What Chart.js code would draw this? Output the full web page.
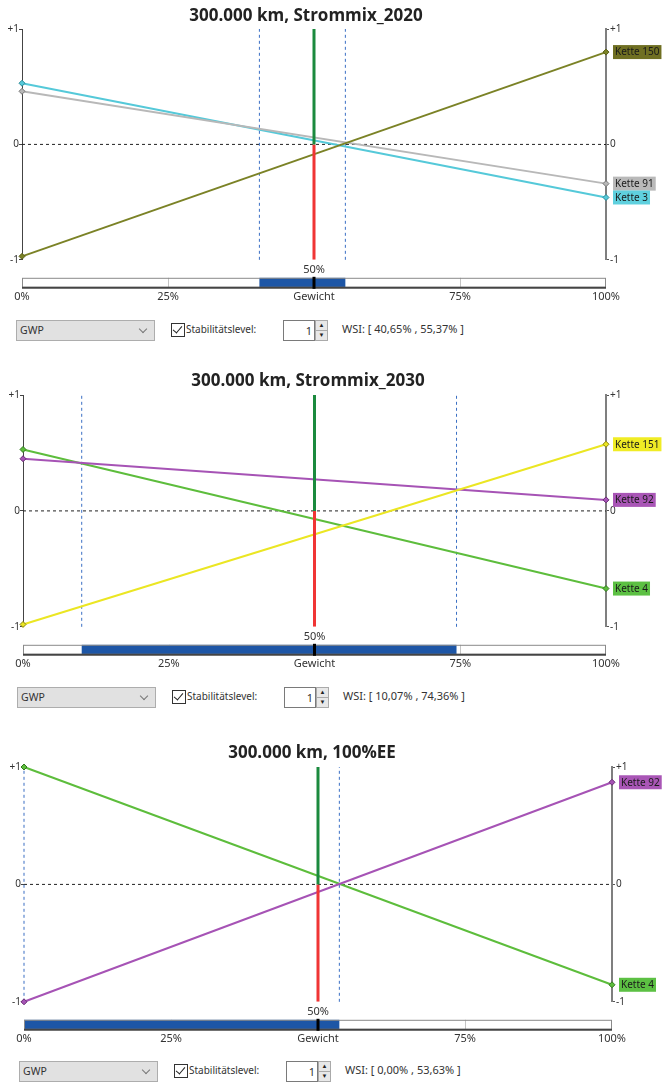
<!DOCTYPE html>
<html>
<head>
<meta charset="utf-8">
<script src="https://cdn.jsdelivr.net/npm/chart.js@4.4.1/dist/chart.umd.min.js"></script>
<style>
  body { margin: 0; background: #fff; font-family: "Noto Sans", sans-serif; }
  .wrap { position: relative; width: 664px; height: 1082px; overflow: hidden; }
  canvas { position: absolute; left: 0; }
  .title { position: absolute; width: 400px; text-align: center; font: bold 17px "Open Sans", sans-serif; color: #222; line-height: 20px; white-space: nowrap; }
  .ctrl { position: absolute; left: 0; width: 664px; height: 22px; font-size: 11px; color: #333; }
  .combo { position: absolute; top: 0; width: 134px; height: 19px; background: #e1e1e1; border: 1px solid #adadad; line-height: 19px; padding-left: 3px; box-sizing: content-box; font-size: 10.5px; }
  .chev { position: absolute; right: 8px; top: 5px; width: 5px; height: 5px; border-right: 1px solid #777; border-bottom: 1px solid #777; transform: rotate(45deg); }
  .chk { position: absolute; top: 3px; width: 12px; height: 12px; border: 1px solid #333; background: #fff; }
  .chk::after { content: ""; position: absolute; left: 3px; top: 0px; width: 4px; height: 8px; border-right: 1.5px solid #222; border-bottom: 1.5px solid #222; transform: rotate(40deg); }
  .lbl { position: absolute; top: 2px; font-size: 10px; }
  .spin { position: absolute; top: 0; width: 28px; height: 19px; border: 1px solid #7a7a7a; background: #fff; text-align: right; line-height: 19px; padding-right: 2px; box-sizing: content-box; }
  .arr { position: absolute; width: 11px; height: 9px; background: #e8e8e8; border: 1px solid #aaa; font-size: 6px; line-height: 9px; text-align: center; color: #222; }
  .wsi { position: absolute; top: 1px; }
</style>
</head>
<body>
<div class="wrap" id="wrap">
  <canvas id="c1" width="664" height="305" style="top:0px"></canvas>
  <canvas id="c2" width="664" height="306" style="top:366px"></canvas>
  <canvas id="c3" width="664" height="309" style="top:738px"></canvas>
</div>
<script>
// weights on the x axis (0% .. 100%)
const xWeight = [0, 100];
const xTickValues = [0, 25, 50, 75, 100];
const xTickLabels = ['0%', '25%', 'Gewicht', '75%', '100%'];
const currentWeight = 50;

const titles = ['300.000 km, Strommix_2020', '300.000 km, Strommix_2030', '300.000 km, 100%EE'];

// Strommix 2020
const names2020 = ['Kette 150', 'Kette 91', 'Kette 3'];
const start2020 = [-0.97, 0.46, 0.53];
const end2020 = [0.80, -0.34, -0.46];
const wsi2020 = [40.65, 55.37];

// Strommix 2030
const names2030 = ['Kette 151', 'Kette 92', 'Kette 4'];
const start2030 = [-0.98, 0.45, 0.53];
const end2030 = [0.575, 0.095, -0.67];
const wsi2030 = [10.07, 74.36];

// 100% EE
const namesEE = ['Kette 92', 'Kette 4'];
const startEE = [-1.0, 1.0];
const endEE = [0.87, -0.855];
const wsiEE = [0.0, 53.63];

const ketteColors = {
  'Kette 150': { line: '#7b8226', point: '#5a5e1a', tag: '#6f6f22' },
  'Kette 91': { line: '#b8b8b8', point: '#777', tag: '#b9b9b9' },
  'Kette 3': { line: '#55c9d9', point: '#2e8c99', tag: '#5fd0de' },
  'Kette 151': { line: '#ebe623', point: '#8a8410', tag: '#f0ec25' },
  'Kette 92': { line: '#a653b5', point: '#6a2d76', tag: '#a956b6' },
  'Kette 4': { line: '#5dbd3c', point: '#327a1e', tag: '#5cc043' }
};

const FONT = '"Noto Sans", sans-serif';

// the weight slider under the plot
const wsiBar = {
  id: 'wsiBar',
  afterDraw(chart, args, opts) {
    const { ctx, chartArea, scales: { x } } = chart;
    const top = chartArea.bottom + 18, h = 10;
    const l = x.getPixelForValue(0), r = x.getPixelForValue(100);
    ctx.save();
    ctx.fillStyle = '#fff';
    ctx.fillRect(l, top, r - l, h);
    ctx.strokeStyle = '#c4c4c4';
    ctx.lineWidth = 1;
    [25, 75].forEach(v => {
      const p = Math.round(x.getPixelForValue(v)) + 0.5;
      ctx.beginPath(); ctx.moveTo(p, top); ctx.lineTo(p, top + h); ctx.stroke();
    });
    const a = x.getPixelForValue(opts.range[0]), b = x.getPixelForValue(opts.range[1]);
    ctx.fillStyle = '#1d56a6';
    ctx.fillRect(a, top, b - a, h);
    ctx.strokeStyle = '#8a8a8a';
    ctx.strokeRect(l + 0.5, top + 0.5, r - l - 1, h - 1);
    ctx.strokeStyle = '#444';
    ctx.lineWidth = 2;
    ctx.beginPath(); ctx.moveTo(l, top + h); ctx.lineTo(r, top + h); ctx.stroke();
    const m = x.getPixelForValue(opts.marker);
    ctx.fillStyle = '#000';
    ctx.fillRect(m - 1.5, top - 1, 3, h + 2);
    ctx.fillStyle = '#333';
    ctx.font = '11px ' + FONT;
    ctx.textAlign = 'center';
    ctx.textBaseline = 'bottom';
    ctx.fillText(opts.marker + '%', m, top - 2);
    ctx.restore();
  }
};

// coloured name tags to the right of the right axis
const ketteTags = {
  id: 'ketteTags',
  afterDraw(chart) {
    const { ctx, scales: { x, y } } = chart;
    ctx.save();
    ctx.font = '10px ' + FONT;
    ctx.textBaseline = 'middle';
    chart.data.datasets.forEach(ds => {
      if (!ds.tagColor) return;
      const last = ds.data[ds.data.length - 1];
      const px = x.getPixelForValue(last.x) + 7;
      const py = y.getPixelForValue(last.y);
      const w = ctx.measureText(ds.label).width + 4;
      ctx.fillStyle = ds.tagColor;
      ctx.fillRect(px, py - 7, w, 14);
      ctx.fillStyle = '#1a1a1a';
      ctx.fillText(ds.label, px + 2, py + 0.5);
    });
    ctx.restore();
  }
};

function buildDatasets(names, starts, ends, wsi) {
  const sets = [];
  // current weight: green above zero, red below
  sets.push({ data: [{ x: currentWeight, y: 0 }, { x: currentWeight, y: 1 }], borderColor: '#1b8a3e', borderWidth: 3, pointRadius: 0 });
  sets.push({ data: [{ x: currentWeight, y: -1 }, { x: currentWeight, y: 0 }], borderColor: '#f03535', borderWidth: 3, pointRadius: 0 });
  names.forEach((n, i) => {
    const c = ketteColors[n];
    sets.push({
      label: n,
      data: xWeight.map((xv, j) => ({ x: xv, y: j === 0 ? starts[i] : ends[i] })),
      borderColor: c.line,
      borderWidth: 2,
      pointStyle: 'rectRot',
      pointRadius: 3,
      pointBackgroundColor: c.line,
      pointBorderColor: c.point,
      pointBorderWidth: 1,
      tagColor: c.tag,
      clip: false
    });
  });
  // stability interval bounds
  wsi.forEach(v => {
    sets.push({ data: [{ x: v, y: -1 }, { x: v, y: 1 }], borderColor: '#3a6fc4', borderWidth: 1, borderDash: [3, 3], pointRadius: 0, clip: false });
  });
  // zero line
  sets.push({ data: [{ x: 0, y: 0 }, { x: 100, y: 0 }], borderColor: '#222', borderWidth: 1, borderDash: [3, 3], pointRadius: 0 });
  return sets;
}

function makeChart(id, datasets, wsi, leftW, rightW, leftBorder) {
  const ctx = document.getElementById(id).getContext('2d');
  return new Chart(ctx, {
    type: 'line',
    data: { datasets: datasets },
    plugins: [wsiBar, ketteTags],
    options: {
      responsive: false,
      animation: false,
      events: [],
      layout: { padding: { top: 29 } },
      plugins: {
        legend: { display: false },
        tooltip: { enabled: false },
        wsiBar: { range: wsi, marker: currentWeight }
      },
      scales: {
        x: {
          type: 'linear', min: 0, max: 100,
          grid: { display: false, drawTicks: true, tickLength: 28 },
          border: { display: false },
          afterBuildTicks: s => { s.ticks = xTickValues.map(v => ({ value: v })); },
          ticks: {
            padding: 2, maxRotation: 0, autoSkip: false, color: '#333',
            font: { family: FONT, size: 11 },
            callback: (v) => xTickLabels[xTickValues.indexOf(v)]
          }
        },
        y: {
          position: 'left', min: -1, max: 1,
          afterFit: s => { s.width = leftW; },
          grid: { drawOnChartArea: false, tickLength: 3, color: '#444' },
          border: { color: leftBorder, width: 1 },
          ticks: { stepSize: 1, padding: 0, color: '#333', font: { family: FONT, size: 10 }, callback: v => v > 0 ? '+1' : String(v) }
        },
        y2: {
          position: 'right', min: -1, max: 1,
          afterFit: s => { s.width = rightW; },
          grid: { drawOnChartArea: false, tickLength: 3, color: '#555' },
          border: { color: '#7f7f7f', width: 2 },
          ticks: { stepSize: 1, padding: 1, color: '#333', font: { family: FONT, size: 10 }, callback: v => v > 0 ? '+1' : String(v) }
        }
      }
    }
  });
}

makeChart('c1', buildDatasets(names2020, start2020, end2020, wsi2020), wsi2020, 22, 58, '#444');
makeChart('c2', buildDatasets(names2030, start2030, end2030, wsi2030), wsi2030, 23, 58, '#444');
makeChart('c3', buildDatasets(namesEE, startEE, endEE, wsiEE), wsiEE, 24, 52, 'rgba(0,0,0,0)');

const wrap = document.getElementById('wrap');

// panel titles
function addTitle(text, centerX, top) {
  const t = document.createElement('div');
  t.className = 'title';
  t.style.left = (centerX - 200) + 'px';
  t.style.top = top + 'px';
  t.textContent = text;
  wrap.appendChild(t);
}
addTitle(titles[0], 306, 5);
addTitle(titles[1], 308, 370);
addTitle(titles[2], 312, 742);

// form controls under each chart
const fmt = v => v.toFixed(2).replace('.', ',');
function addControls(top, dx, wsi) {
  const d = document.createElement('div');
  d.className = 'ctrl';
  d.style.top = top + 'px';
  d.innerHTML =
    '<div class="combo" style="left:' + (16 + dx) + 'px">GWP<span class="chev"></span></div>' +
    '<div class="chk" style="left:' + (171 + dx) + 'px"></div>' +
    '<span class="lbl" style="left:' + (186 + dx) + 'px">Stabilitätslevel:</span>' +
    '<div class="spin" style="left:' + (283 + dx) + 'px">1</div>' +
    '<div class="arr" style="left:' + (315 + dx) + 'px;top:0px">▲</div>' +
    '<div class="arr" style="left:' + (315 + dx) + 'px;top:10px">▼</div>' +
    '<span class="wsi" style="left:' + (342 + dx) + 'px">WSI: [ ' + fmt(wsi[0]) + '% , ' + fmt(wsi[1]) + '% ]</span>';
  wrap.appendChild(d);
}
addControls(320, 0, wsi2020);
addControls(687, 1, wsi2030);
addControls(1061, 3, wsiEE);
</script>
</body>
</html>
